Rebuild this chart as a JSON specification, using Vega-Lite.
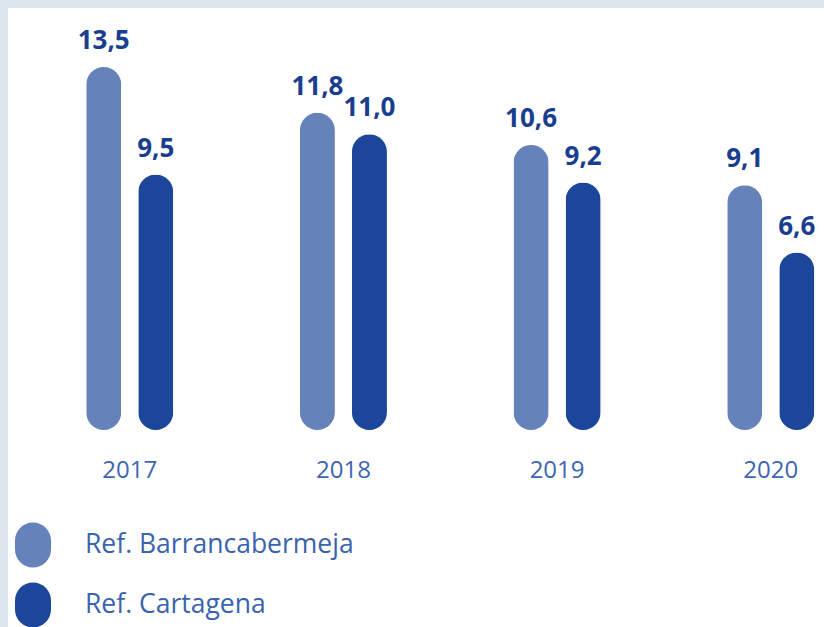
{
  "$schema": "https://vega.github.io/schema/vega-lite/v6.json",
  "width": 816,
  "height": 619,
  "autosize": {"type": "none"},
  "padding": {"left": 8, "top": 8, "right": 0, "bottom": 0},
  "background": "#dde5ef",
  "config": {"view": {"fill": "white", "stroke": null}},
  "data": {
    "values": [
      {"year": "2017", "refinery": "Ref. Barrancabermeja", "value": 13.5, "label": "13,5"},
      {"year": "2017", "refinery": "Ref. Cartagena", "value": 9.5, "label": "9,5"},
      {"year": "2018", "refinery": "Ref. Barrancabermeja", "value": 11.8, "label": "11,8"},
      {"year": "2018", "refinery": "Ref. Cartagena", "value": 11.0, "label": "11,0"},
      {"year": "2019", "refinery": "Ref. Barrancabermeja", "value": 10.6, "label": "10,6"},
      {"year": "2019", "refinery": "Ref. Cartagena", "value": 9.2, "label": "9,2"},
      {"year": "2020", "refinery": "Ref. Barrancabermeja", "value": 9.1, "label": "9,1"},
      {"year": "2020", "refinery": "Ref. Cartagena", "value": 6.6, "label": "6,6"}
    ]
  },
  "encoding": {
    "x": {
      "field": "year",
      "type": "nominal",
      "scale": {"range": [14.9, 869.6], "paddingInner": 0.5, "paddingOuter": 0.25},
      "axis": {
        "title": null,
        "labelAngle": 0,
        "ticks": false,
        "tickSize": 0,
        "domain": false,
        "offset": -150,
        "labelPadding": 0,
        "labelBaseline": "alphabetic",
        "labelFont": "Open Sans",
        "labelFontSize": 24,
        "labelColor": "#3d66b3"
      }
    },
    "xOffset": {
      "field": "refinery",
      "type": "nominal",
      "scale": {"paddingInner": 0.327, "paddingOuter": 0.19}
    },
    "y": {
      "field": "value",
      "type": "quantitative",
      "scale": {"domain": [0, 13.5], "range": [422, 59], "nice": false, "zero": true},
      "axis": null
    }
  },
  "layer": [
    {
      "mark": {"type": "bar", "cornerRadius": 17.5},
      "encoding": {
        "color": {
          "field": "refinery",
          "type": "nominal",
          "scale": {"domain": ["Ref. Barrancabermeja", "Ref. Cartagena"], "range": ["#6682bb", "#1c4699"]},
          "legend": {
            "title": null,
            "orient": "none",
            "legendX": 2.5,
            "legendY": 514.5,
            "padding": 0,
            "symbolType": "M-0.8,-0.2 A0.8,0.8 0 0 1 0.8,-0.2 L0.8,0.2 A0.8,0.8 0 0 1 -0.8,0.2 Z",
            "symbolSize": 2025,
            "symbolStrokeWidth": 0,
            "symbolOpacity": 1,
            "labelFont": "Open Sans",
            "labelFontSize": 26.5,
            "labelColor": "#3a63ad",
            "labelOffset": 29.5,
            "rowPadding": 15,
            "labelLimit": 400
          }
        }
      }
    },
    {
      "mark": {
        "type": "text",
        "baseline": "alphabetic",
        "align": "center",
        "dy": -18,
        "font": "Open Sans",
        "fontWeight": "bold",
        "fontSize": 26,
        "color": "#1a3e8f"
      },
      "encoding": {"text": {"field": "label", "type": "nominal"}}
    }
  ]
}
